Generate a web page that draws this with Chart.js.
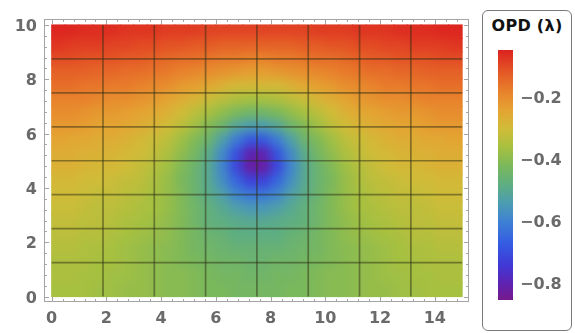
<!DOCTYPE html>
<html>
<head>
<meta charset="utf-8">
<script src="https://cdn.jsdelivr.net/npm/chart.js@4.4.1/dist/chart.umd.min.js"></script>
<style>
  body { margin: 0; background: #fff; width: 575px; height: 333px; overflow: hidden; position: relative; font-family: "DejaVu Sans", sans-serif; }
  #mapChart { position: absolute; left: 0; top: 0; }
  #legendBox { position: absolute; left: 482px; top: 10px; width: 88px; height: 319px; border: 1px solid #7a7a7a; border-radius: 6px; }
  #legendTitle { position: absolute; left: 482px; top: 18px; width: 90px; text-align: center; font: bold 16px "DejaVu Sans"; line-height: 16px; letter-spacing: 0.3px; color: #111; }
  #barChart { position: absolute; left: 484px; top: 40px; }
</style>
</head>
<body>
<canvas id="mapChart" width="478" height="333"></canvas>
<div id="legendBox"></div>
<div id="legendTitle">OPD (λ)</div>
<canvas id="barChart" width="90" height="275"></canvas>
<script>
// cell centres of the sampled map (top row first)
var gridX = [0.25, 0.75, 1.25, 1.75, 2.25, 2.75, 3.25, 3.75, 4.25, 4.75, 5.25, 5.75, 6.25, 6.75, 7.25,
             7.75, 8.25, 8.75, 9.25, 9.75, 10.25, 10.75, 11.25, 11.75, 12.25, 12.75, 13.25, 13.75, 14.25, 14.75];
var gridY = [9.75, 9.25, 8.75, 8.25, 7.75, 7.25, 6.75, 6.25, 5.75, 5.25,
             4.75, 4.25, 3.75, 3.25, 2.75, 2.25, 1.75, 1.25, 0.75, 0.25];

// OPD in waves
var opd = [
  [-0.05,-0.05,-0.06,-0.06,-0.06,-0.07,-0.07,-0.07,-0.08,-0.08,-0.08,-0.09,-0.09,-0.09,-0.09, -0.09,-0.09,-0.09,-0.09,-0.08,-0.08,-0.08,-0.07,-0.07,-0.07,-0.06,-0.06,-0.06,-0.05,-0.05],
  [-0.07,-0.08,-0.08,-0.08,-0.09,-0.09,-0.10,-0.10,-0.11,-0.11,-0.12,-0.12,-0.13,-0.13,-0.13, -0.13,-0.13,-0.13,-0.12,-0.12,-0.11,-0.11,-0.10,-0.10,-0.09,-0.09,-0.08,-0.08,-0.08,-0.07],
  [-0.10,-0.10,-0.11,-0.11,-0.11,-0.12,-0.12,-0.13,-0.14,-0.15,-0.15,-0.16,-0.17,-0.17,-0.18, -0.18,-0.17,-0.17,-0.16,-0.15,-0.15,-0.14,-0.13,-0.12,-0.12,-0.11,-0.11,-0.11,-0.10,-0.10],
  [-0.13,-0.13,-0.13,-0.14,-0.14,-0.15,-0.15,-0.16,-0.17,-0.18,-0.19,-0.20,-0.21,-0.22,-0.23, -0.23,-0.22,-0.21,-0.20,-0.19,-0.18,-0.17,-0.16,-0.15,-0.15,-0.14,-0.14,-0.13,-0.13,-0.13],
  [-0.15,-0.15,-0.16,-0.16,-0.17,-0.17,-0.18,-0.19,-0.20,-0.22,-0.23,-0.25,-0.27,-0.29,-0.29, -0.29,-0.29,-0.27,-0.25,-0.23,-0.22,-0.20,-0.19,-0.18,-0.17,-0.17,-0.16,-0.16,-0.15,-0.15],
  [-0.18,-0.18,-0.18,-0.19,-0.20,-0.20,-0.21,-0.22,-0.24,-0.26,-0.28,-0.31,-0.33,-0.35,-0.36, -0.36,-0.35,-0.33,-0.31,-0.28,-0.26,-0.24,-0.22,-0.21,-0.20,-0.20,-0.19,-0.18,-0.18,-0.18],
  [-0.20,-0.20,-0.21,-0.22,-0.22,-0.23,-0.24,-0.25,-0.27,-0.30,-0.33,-0.36,-0.39,-0.42,-0.44, -0.44,-0.42,-0.39,-0.36,-0.33,-0.30,-0.27,-0.25,-0.24,-0.23,-0.22,-0.22,-0.21,-0.20,-0.20],
  [-0.22,-0.22,-0.23,-0.24,-0.24,-0.25,-0.26,-0.28,-0.30,-0.33,-0.37,-0.41,-0.45,-0.51,-0.54, -0.54,-0.51,-0.45,-0.41,-0.37,-0.33,-0.30,-0.28,-0.26,-0.25,-0.24,-0.24,-0.23,-0.22,-0.22],
  [-0.24,-0.25,-0.25,-0.26,-0.26,-0.27,-0.29,-0.31,-0.33,-0.37,-0.41,-0.45,-0.53,-0.61,-0.68, -0.68,-0.61,-0.53,-0.45,-0.41,-0.37,-0.33,-0.31,-0.29,-0.27,-0.26,-0.26,-0.25,-0.25,-0.24],
  [-0.26,-0.26,-0.27,-0.27,-0.28,-0.29,-0.30,-0.32,-0.35,-0.39,-0.43,-0.49,-0.58,-0.69,-0.80, -0.80,-0.69,-0.58,-0.49,-0.43,-0.39,-0.35,-0.32,-0.30,-0.29,-0.28,-0.27,-0.27,-0.26,-0.26],
  [-0.27,-0.27,-0.28,-0.29,-0.29,-0.30,-0.32,-0.34,-0.37,-0.41,-0.45,-0.50,-0.59,-0.71,-0.82, -0.82,-0.71,-0.59,-0.50,-0.45,-0.41,-0.37,-0.34,-0.32,-0.30,-0.29,-0.29,-0.28,-0.27,-0.27],
  [-0.29,-0.29,-0.30,-0.30,-0.31,-0.32,-0.33,-0.35,-0.38,-0.42,-0.45,-0.50,-0.57,-0.65,-0.72, -0.72,-0.65,-0.57,-0.50,-0.45,-0.42,-0.38,-0.35,-0.33,-0.32,-0.31,-0.30,-0.30,-0.29,-0.29],
  [-0.30,-0.30,-0.31,-0.32,-0.32,-0.33,-0.34,-0.36,-0.38,-0.41,-0.45,-0.49,-0.53,-0.59,-0.62, -0.62,-0.59,-0.53,-0.49,-0.45,-0.41,-0.38,-0.36,-0.34,-0.33,-0.32,-0.32,-0.31,-0.30,-0.30],
  [-0.31,-0.31,-0.32,-0.33,-0.33,-0.34,-0.35,-0.36,-0.38,-0.41,-0.44,-0.47,-0.50,-0.53,-0.55, -0.55,-0.53,-0.50,-0.47,-0.44,-0.41,-0.38,-0.36,-0.35,-0.34,-0.33,-0.33,-0.32,-0.31,-0.31],
  [-0.32,-0.32,-0.33,-0.33,-0.34,-0.35,-0.36,-0.37,-0.39,-0.41,-0.44,-0.47,-0.48,-0.49,-0.50, -0.50,-0.49,-0.48,-0.47,-0.44,-0.41,-0.39,-0.37,-0.36,-0.35,-0.34,-0.33,-0.33,-0.32,-0.32],
  [-0.33,-0.33,-0.34,-0.34,-0.35,-0.36,-0.37,-0.38,-0.39,-0.41,-0.43,-0.45,-0.46,-0.48,-0.48, -0.48,-0.48,-0.46,-0.45,-0.43,-0.41,-0.39,-0.38,-0.37,-0.36,-0.35,-0.34,-0.34,-0.33,-0.33],
  [-0.34,-0.34,-0.35,-0.35,-0.36,-0.37,-0.38,-0.39,-0.40,-0.41,-0.43,-0.44,-0.45,-0.46,-0.46, -0.46,-0.46,-0.45,-0.44,-0.43,-0.41,-0.40,-0.39,-0.38,-0.37,-0.36,-0.35,-0.35,-0.34,-0.34],
  [-0.35,-0.35,-0.35,-0.36,-0.36,-0.37,-0.38,-0.39,-0.40,-0.41,-0.42,-0.43,-0.44,-0.44,-0.45, -0.45,-0.44,-0.44,-0.43,-0.42,-0.41,-0.40,-0.39,-0.38,-0.37,-0.36,-0.36,-0.35,-0.35,-0.35],
  [-0.35,-0.35,-0.36,-0.36,-0.37,-0.37,-0.38,-0.39,-0.40,-0.40,-0.41,-0.42,-0.43,-0.43,-0.44, -0.44,-0.43,-0.43,-0.42,-0.41,-0.40,-0.40,-0.39,-0.38,-0.37,-0.37,-0.36,-0.36,-0.35,-0.35],
  [-0.36,-0.36,-0.36,-0.37,-0.37,-0.38,-0.38,-0.39,-0.40,-0.40,-0.41,-0.42,-0.42,-0.43,-0.43, -0.43,-0.43,-0.42,-0.42,-0.41,-0.40,-0.40,-0.39,-0.38,-0.38,-0.37,-0.37,-0.36,-0.36,-0.36]
];

// mesh lines drawn over the map
var meshX = [1.875, 3.75, 5.625, 7.5, 9.375, 11.25, 13.125];
var meshY = [1.25, 2.5, 3.75, 5, 6.25, 7.5, 8.75];

var xTicks = [0, 2, 4, 6, 8, 10, 12, 14];
var yTicks = [0, 2, 4, 6, 8, 10];
var barTicks = [-0.2, -0.4, -0.6, -0.8];
var opdMin = -0.852;
var opdMax = -0.045;

// rainbow colour scale: value, r, g, b
var cmap = [
  [-0.852, 118, 26, 140],
  [-0.80, 96, 34, 176],
  [-0.74, 64, 56, 214],
  [-0.67, 52, 92, 226],
  [-0.60, 62, 128, 212],
  [-0.54, 76, 156, 178],
  [-0.48, 94, 174, 130],
  [-0.42, 122, 184, 92],
  [-0.36, 166, 192, 64],
  [-0.30, 208, 188, 56],
  [-0.24, 228, 164, 50],
  [-0.18, 232, 130, 44],
  [-0.12, 228, 90, 38],
  [-0.045, 220, 34, 32]
];

function colour(v) {
    if (v <= cmap[0][0]) return 'rgb(' + cmap[0].slice(1).join(',') + ')';
    for (var i = 1; i < cmap.length; i++) {
        if (v <= cmap[i][0]) {
            var a = cmap[i - 1], b = cmap[i];
            var t = (v - a[0]) / (b[0] - a[0]);
            return 'rgb(' + [1, 2, 3].map(function (k) { return Math.round(a[k] + (b[k] - a[k]) * t); }).join(',') + ')';
        }
    }
    return 'rgb(' + cmap[cmap.length - 1].slice(1).join(',') + ')';
}

var cells = [];
for (var r = 0; r < gridY.length; r++) {
    for (var c = 0; c < gridX.length; c++) {
        cells.push({ x: gridX[c], y: gridY[r], v: opd[r][c] });
    }
}

var meshSets = [];
meshX.forEach(function (m) {
    meshSets.push({ type: 'line', data: [{ x: m, y: 0 }, { x: m, y: 10 }], order: 0 });
});
meshY.forEach(function (m) {
    meshSets.push({ type: 'line', data: [{ x: 0, y: m }, { x: 15, y: m }], order: 0 });
});
meshSets.forEach(function (d) {
    d.borderColor = 'rgba(45, 45, 20, 0.5)';
    d.borderWidth = 1.7;
    d.pointRadius = 0;
    d.fill = false;
});
var cellIndex = meshSets.length;

// soften the cell edges like the density plot (edges stretched so no white bleeds in)
var smoothPlugin = {
    id: 'smooth',
    afterDatasetDraw: function (chart, args) {
        if (args.index !== cellIndex) return;
        var xs = chart.scales.x, ys = chart.scales.y;
        var L = Math.round(xs.getPixelForValue(0)) + 1, R = Math.round(xs.getPixelForValue(15)) - 1;
        var T = Math.round(ys.getPixelForValue(10)) + 1, B = Math.round(ys.getPixelForValue(0)) - 1;
        var w = R - L, h = B - T, p = 16;
        var off = document.createElement('canvas');
        off.width = w + 2 * p;
        off.height = h + 2 * p;
        var o = off.getContext('2d');
        var src = chart.canvas;
        o.drawImage(src, L, T, w, h, p, p, w, h);
        o.drawImage(src, L, T, w, 1, p, 0, w, p);
        o.drawImage(src, L, B - 1, w, 1, p, p + h, w, p);
        o.drawImage(off, p, 0, 1, h + 2 * p, 0, 0, p, h + 2 * p);
        o.drawImage(off, p + w - 1, 0, 1, h + 2 * p, p + w, 0, p, h + 2 * p);
        var g = chart.ctx;
        g.save();
        g.beginPath();
        g.rect(L - 1, T - 1, w + 2, h + 2);
        g.clip();
        g.filter = 'blur(5px)';
        g.drawImage(off, L - p, T - p);
        g.restore();
    }
};

// frame with inward ticks on all four sides
var framePlugin = {
    id: 'frame',
    afterDraw: function (chart) {
        var a = chart.chartArea, g = chart.ctx, xs = chart.scales.x, ys = chart.scales.y;
        g.save();
        g.strokeStyle = '#a4a4a4';
        g.lineWidth = 1;
        g.strokeRect(a.left + 0.5, a.top + 0.5, a.right - a.left - 1, a.bottom - a.top - 1);
        g.beginPath();
        for (var k = 0; k <= 37; k++) {
            var px = Math.round(xs.getPixelForValue(k * 0.4)) + 0.5;
            var len = k % 5 === 0 ? 5 : 3;
            g.moveTo(px, a.bottom); g.lineTo(px, a.bottom - len);
            g.moveTo(px, a.top); g.lineTo(px, a.top + len);
        }
        for (var j = 0; j <= 25; j++) {
            var py = Math.round(ys.getPixelForValue(j * 0.4)) + 0.5;
            var l2 = j % 5 === 0 ? 5 : 3;
            g.moveTo(a.left, py); g.lineTo(a.left + l2, py);
            g.moveTo(a.right, py); g.lineTo(a.right - l2, py);
        }
        g.stroke();
        g.restore();
    }
};

function noPad(s) {
    s.paddingTop = 0;
    s.paddingBottom = 0;
    s.paddingLeft = 0;
    s.paddingRight = 0;
}

var tickFont = { family: 'DejaVu Sans', size: 16, weight: 'bold' };

var ctxMap = document.getElementById('mapChart').getContext('2d');
var mapChart = new Chart(ctxMap, {
    type: 'scatter',
    data: {
        datasets: meshSets.concat([{
            data: cells,
            order: 1,
            pointStyle: 'rect',
            pointBorderWidth: 0,
            borderWidth: 0,
            pointRadius: function (ctx) {
                var xs = ctx.chart.scales.x;
                var w = xs.getPixelForValue(gridX[1]) - xs.getPixelForValue(gridX[0]);
                return (w + 1) * Math.SQRT1_2;
            },
            backgroundColor: function (ctx) {
                return ctx.raw ? colour(ctx.raw.v) : '#000';
            }
        }])
    },
    options: {
        responsive: false,
        animation: false,
        events: [],
        layout: { padding: { top: 19, right: 9, left: 0, bottom: 0 } },
        scales: {
            x: {
                type: 'linear',
                min: -0.28,
                max: 15.25,
                afterBuildTicks: function (s) { s.ticks = xTicks.map(function (v) { return { value: v }; }); },
                afterFit: function (s) { s.height = 31; noPad(s); },
                grid: { display: false, drawTicks: false },
                border: { display: false },
                ticks: { font: tickFont, color: '#6a6a6a', padding: 7, maxRotation: 0, autoSkip: false }
            },
            y: {
                type: 'linear',
                min: -0.2,
                max: 10.22,
                afterBuildTicks: function (s) { s.ticks = yTicks.map(function (v) { return { value: v }; }); },
                afterFit: function (s) { s.width = 44; noPad(s); },
                grid: { display: false, drawTicks: false },
                border: { display: false },
                ticks: { font: tickFont, color: '#6a6a6a', padding: 7, labelOffset: 2, autoSkip: false }
            }
        },
        plugins: {
            legend: { display: false },
            tooltip: { enabled: false }
        }
    },
    plugins: [smoothPlugin, framePlugin]
});

// colour bar
var ctxBar = document.getElementById('barChart').getContext('2d');
var barChart = new Chart(ctxBar, {
    type: 'bar',
    data: {
        labels: ['OPD'],
        datasets: [{
            data: [[opdMin, opdMax]],
            barPercentage: 1,
            categoryPercentage: 1,
            borderWidth: 0,
            backgroundColor: function (ctx) {
                var ch = ctx.chart;
                if (!ch.chartArea) return '#888';
                var ys = ch.scales.y;
                var grad = ch.ctx.createLinearGradient(0, ys.getPixelForValue(opdMin), 0, ys.getPixelForValue(opdMax));
                cmap.forEach(function (s) {
                    grad.addColorStop((s[0] - opdMin) / (opdMax - opdMin), 'rgb(' + s.slice(1).join(',') + ')');
                });
                return grad;
            }
        }]
    },
    options: {
        responsive: false,
        animation: false,
        events: [],
        layout: { padding: { left: 14, top: 10, bottom: 15, right: 0 } },
        scales: {
            x: { display: false },
            y: {
                position: 'right',
                min: opdMin,
                max: opdMax,
                afterBuildTicks: function (s) { s.ticks = barTicks.map(function (v) { return { value: v }; }); },
                afterFit: function (s) { s.width = 61; noPad(s); },
                grid: { display: false, drawTicks: false },
                border: { display: false },
                ticks: {
                    font: tickFont,
                    color: '#6a6a6a',
                    padding: 7,
                    labelOffset: 1,
                    callback: function (v) { return '\u2212' + Math.abs(v).toFixed(1); }
                }
            }
        },
        plugins: {
            legend: { display: false },
            tooltip: { enabled: false }
        }
    }
});
</script>
</body>
</html>
